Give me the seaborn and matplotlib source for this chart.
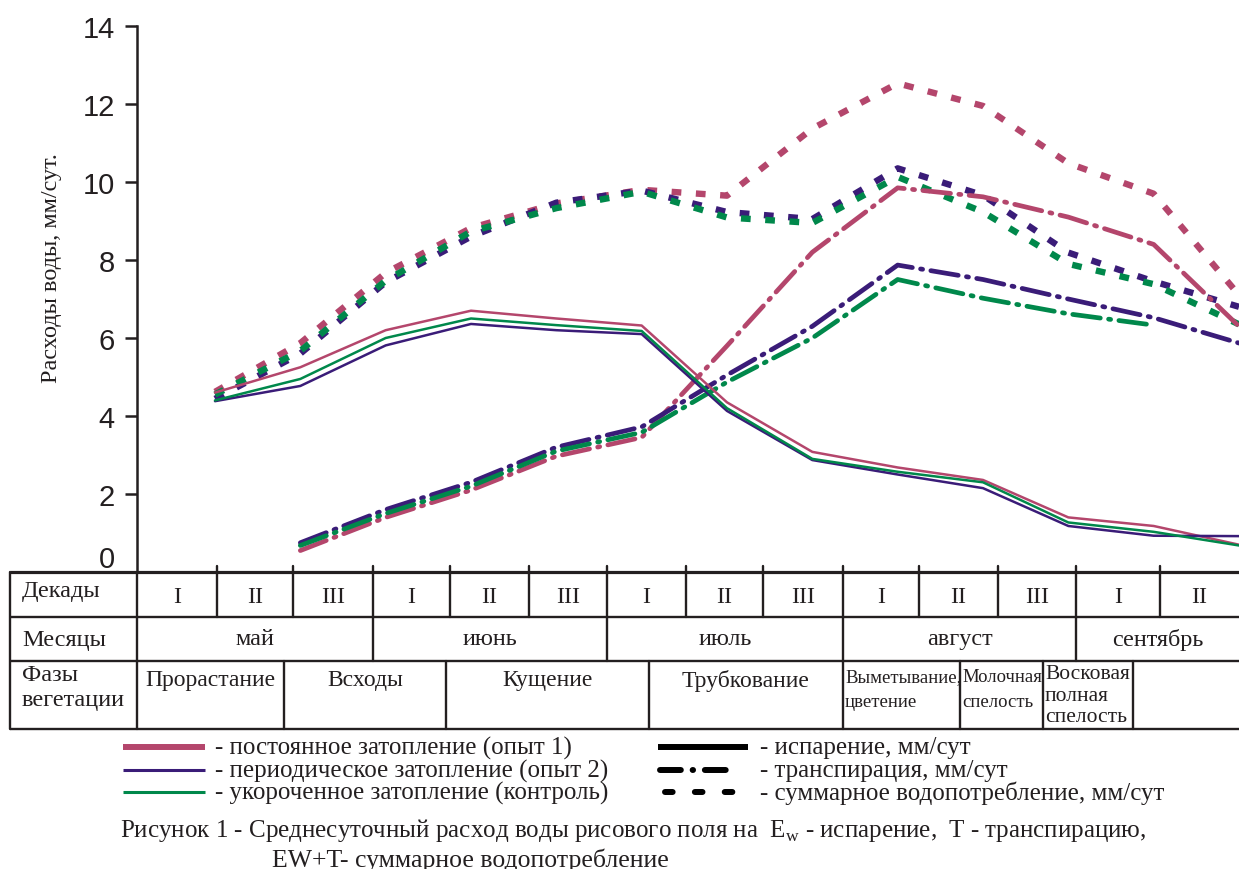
import numpy as np
import matplotlib
matplotlib.use("Agg")
import matplotlib.pyplot as plt
from matplotlib.lines import Line2D
from matplotlib.transforms import ScaledTranslation
import seaborn as sns

# ---------------- data ----------------
# measurement points: decade number counted from 1 (May II) to 13 (September II)
decade_no = list(range(1, 14))

# evaporation, mm/day
evap_const = [4.60, 5.25, 6.20, 6.70, 6.50, 6.32, 4.35, 3.08, 2.68, 2.36, 1.40, 1.18, 0.70]
evap_period = [4.38, 4.77, 5.81, 6.36, 6.20, 6.10, 4.13, 2.87, 2.50, 2.15, 1.18, 0.93, 0.92]
evap_short = [4.40, 4.95, 6.00, 6.50, 6.33, 6.18, 4.20, 2.90, 2.57, 2.30, 1.27, 1.03, 0.68]

# transpiration, mm/day (None = not measured)
transp_const = [None, 0.55, 1.40, 2.10, 2.97, 3.45, 5.80, 8.20, 9.85, 9.62, 9.10, 8.40, 6.30]
transp_period = [None, 0.75, 1.60, 2.30, 3.20, 3.72, 5.05, 6.30, 7.87, 7.50, 7.00, 6.52, 5.87]
transp_short = [None, 0.68, 1.50, 2.20, 3.10, 3.58, 4.87, 6.00, 7.50, 7.02, 6.62, 6.33, None]

# total water use, mm/day
total_const = [4.62, 5.87, 7.67, 8.82, 9.45, 9.80, 9.65, 11.37, 12.53, 11.95, 10.48, 9.70, 7.10]
total_period = [4.44, 5.60, 7.43, 8.60, 9.47, 9.78, 9.23, 9.05, 10.35, 9.66, 8.19, 7.45, 6.80]
total_short = [4.55, 5.67, 7.47, 8.73, 9.33, 9.75, 9.09, 8.95, 10.13, 9.23, 7.90, 7.38, 6.35]

# table contents
decade_labels = ["I", "II", "III", "I", "II", "III", "I", "II", "III",
                 "I", "II", "III", "I", "II"]
month_labels = ["май", "июнь", "июль", "август", "сентябрь"]
phase_labels = ["Прорастание", "Всходы", "Кущение", "Трубкование"]
variant_labels = ["- постоянное затопление (опыт 1)",
                  "- периодическое затопление (опыт 2)",
                  "- укороченное затопление (контроль)"]
component_labels = ["- испарение, мм/сут",
                    "- транспирация, мм/сут",
                    "- суммарное водопотребление, мм/сут"]

# ---------------- style ----------------
PINK, PURPLE, GREEN = "#b4466c", "#3a1c78", "#00884b"
INK = "#231f20"
SERIF = ["Liberation Serif", "DejaVu Serif"]
SANS = ["Liberation Sans", "DejaVu Sans"]

sns.set_theme(style="white")
plt.rcParams["font.family"] = SERIF
plt.rcParams["lines.scale_dashes"] = False

W, H = 1239, 870
fig = plt.figure(figsize=(W / 100, H / 100), dpi=100)

# overlay in pixel coordinates for the table, legend and caption
ov = fig.add_axes([0, 0, 1, 1])
ov.set_xlim(0, W)
ov.set_ylim(H, 0)
ov.axis("off")

ax = fig.add_axes([137 / W, 1 - 573 / H, 1 - 137 / W, (573 - 27) / H])
ax.set_facecolor("none")

variants = [PINK, PURPLE, GREEN]
evap = [evap_const, evap_period, evap_short]
transp = [transp_const, transp_period, transp_short]
total = [total_const, total_period, total_short]

DASHDOT = (0, (20, 6, 1.5, 6))
DASHED = (0, (7, 10.5))


def series(vals):
    xs = [x for x, v in zip(decade_no, vals) if v is not None]
    ys = [v for v in vals if v is not None]
    return xs, ys


for color, vals in zip(variants, total):
    xs, ys = series(vals)
    sns.lineplot(x=xs, y=ys, ax=ax, color=color, lw=4.6, linestyle=DASHED,
                 dash_capstyle="butt", solid_joinstyle="miter", zorder=3)
for color, vals in zip(variants, transp):
    xs, ys = series(vals)
    sns.lineplot(x=xs, y=ys, ax=ax, color=color, lw=3.4, linestyle=DASHDOT,
                 dash_capstyle="round", zorder=4)
for color, vals in zip(variants, evap):
    xs, ys = series(vals)
    sns.lineplot(x=xs, y=ys, ax=ax, color=color, lw=1.8, zorder=5)

ax.set_xlim(1 - 78 / 85.33, 13)
ax.set_ylim(0, 14)
ax.set_yticks(range(0, 15, 2))
ax.set_yticklabels([str(v) for v in range(0, 15, 2)], fontsize=21,
                   family=SANS, color=INK)
ax.set_xticks([])
ax.set_xlabel("")
ax.set_ylabel("")
ax.tick_params(axis="y", direction="out", length=9, width=1.8, color=INK,
               pad=7, left=True)
for side in ["top", "right", "bottom"]:
    ax.spines[side].set_visible(False)
ax.spines["left"].set_color(INK)
ax.spines["left"].set_linewidth(1.8)
ax.yaxis.get_major_ticks()[0].tick1line.set_visible(False)
zero_lbl = ax.get_yticklabels()[0]
zero_lbl.set_transform(zero_lbl.get_transform()
                       + ScaledTranslation(0, 16 / 100, fig.dpi_scale_trans))

ov.text(52, 268, "Расходы воды, мм/сут.", rotation=90, ha="center",
        va="center", fontsize=17.5, color=INK)

# ---------------- table ----------------
col_edges = [137, 217, 293, 373, 450, 529, 607, 686, 763, 843, 919, 998,
             1076, 1160, W]
month_edges = [col_edges[i] for i in (0, 3, 6, 9, 12, 14)]
phase_edges = [137, 284, 446, 649, 843, 960, 1043, 1133, W]
r0, r1, r2, r3 = 573, 618, 662, 730
LW = 1.7
ov.plot([10, W], [r0, r0], color=INK, lw=2.3, solid_capstyle="butt")
for y in (r1, r2, r3):
    ov.plot([10, W], [y, y], color=INK, lw=LW, solid_capstyle="butt")
ov.plot([10, 10], [r0, r3], color=INK, lw=LW)
ov.plot([137, 137], [r0, r3], color=INK, lw=LW)
for x in col_edges[1:-1]:
    ov.plot([x, x], [r0 - 6, r1], color=INK, lw=LW)
for x in month_edges[1:-1]:
    ov.plot([x, x], [r1, r2], color=INK, lw=LW)
for x in phase_edges[1:-1]:
    ov.plot([x, x], [r2, r3], color=INK, lw=LW)

TFS = 17.5
ov.text(22, 592, "Декады", ha="left", va="center", fontsize=TFS, color=INK)
ov.text(22, 641, "Месяцы", ha="left", va="center", fontsize=TFS, color=INK)
ov.text(22, 676, "Фазы", ha="left", va="center", fontsize=TFS, color=INK)
ov.text(22, 701, "вегетации", ha="left", va="center", fontsize=TFS, color=INK)
for i, lab in enumerate(decade_labels):
    ov.text((col_edges[i] + col_edges[i + 1]) / 2, 598, lab, ha="center",
            va="center", fontsize=TFS, color=INK)
for i, lab in enumerate(month_labels):
    ov.text((month_edges[i] + month_edges[i + 1]) / 2, 640, lab, ha="center",
            va="center", fontsize=TFS, color=INK)
for i, lab in enumerate(phase_labels):
    ov.text((phase_edges[i] + phase_edges[i + 1]) / 2, 681, lab, ha="center",
            va="center", fontsize=17, color=INK)
ov.text(845, 678, "Выметывание,", ha="left", va="center", fontsize=13.5, color=INK)
ov.text(845, 703, "цветение", ha="left", va="center", fontsize=13.5, color=INK)
ov.text(962, 678, "Молочная", ha="left", va="center", fontsize=13.5, color=INK)
ov.text(962, 703, "спелость", ha="left", va="center", fontsize=13.5, color=INK)
for y, lab in zip((675, 697, 718), ("Восковая", "полная", "спелость")):
    ov.text(1045, y, lab, ha="left", va="center", fontsize=15.5, color=INK)

# ---------------- legend ----------------
LFS = 18
for y, color, lw, lab in zip((748, 771, 793), variants, (4.3, 2.2, 2.2),
                             variant_labels):
    ov.add_line(Line2D([123, 205], [y, y], color=color, lw=lw,
                       solid_capstyle="butt"))
    ov.text(215, y, lab, ha="left", va="center", fontsize=LFS, color=INK)
ov.add_line(Line2D([658, 748], [748, 748], color="black", lw=4.3,
                   solid_capstyle="butt"))
ov.add_line(Line2D([660, 733], [771, 771], color="black", lw=4.3,
                   linestyle=(0, (15, 8.5, 0.3, 8.5)), dash_capstyle="round"))
ov.add_line(Line2D([665, 733], [793, 793], color="black", lw=4.3,
                   linestyle=(0, (5.5, 16)), dash_capstyle="round"))
for y, lab in zip((748, 771, 793), component_labels):
    ov.text(760, y, lab, ha="left", va="center", fontsize=LFS, color=INK)

# ---------------- caption ----------------
ov.text(120, 831, "Рисунок 1 - Среднесуточный расход воды рисового поля на  "
        r"E$_\mathregular{w}$ - испарение,  Т - транспирацию,",
        ha="left", va="center", fontsize=18, color=INK)
ov.text(272, 860, "EW+T- суммарное водопотребление", ha="left",
        va="center", fontsize=18.5, color=INK)

fig.savefig("out.png", dpi=100)
